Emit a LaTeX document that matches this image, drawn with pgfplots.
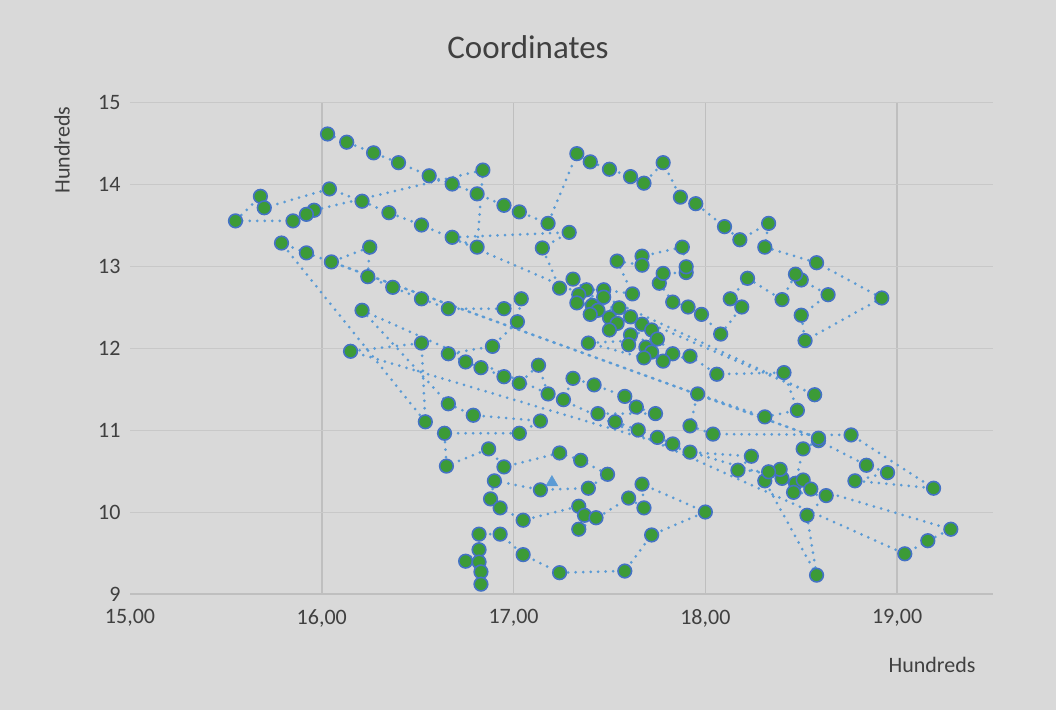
\documentclass[border=0pt]{standalone}
\usepackage{pgfplots}
\pgfplotsset{compat=1.18}
\usepackage{fontspec}
\setmainfont{Carlito}
\definecolor{bgc}{HTML}{D9D9D9}
\definecolor{txt}{HTML}{404040}
\definecolor{vgrid}{HTML}{BFBFBF}
\definecolor{hgrid}{HTML}{C8C8C8}
\definecolor{lineblue}{HTML}{5B9BD5}
\definecolor{mkedge}{HTML}{4472C4}
\definecolor{mkfill}{RGB}{60,155,55}
\pgfplotstableread{
x y
16.03 14.61
16.13 14.51
16.27 14.38
16.40 14.26
16.56 14.10
16.68 14.00
16.81 13.88
16.95 13.74
17.03 13.66
17.18 13.52
17.33 14.37
17.40 14.27
17.50 14.18
17.61 14.09
17.68 14.01
17.78 14.26
17.87 13.84
17.95 13.76
18.10 13.48
18.18 13.32
18.33 13.52
18.31 13.23
18.58 13.04
18.92 12.61
18.52 12.09
18.50 12.40
18.64 12.65
18.50 12.83
18.47 12.90
18.40 12.59
18.22 12.85
18.13 12.60
18.19 12.50
18.08 12.17
17.98 12.41
17.91 12.50
17.83 12.56
17.76 12.79
17.78 12.91
17.90 12.92
17.90 12.99
17.88 13.23
17.67 13.12
17.67 13.01
17.54 13.06
17.62 12.66
17.47 12.71
17.38 12.71
17.31 12.84
17.24 12.73
17.15 13.22
17.29 13.41
16.68 13.35
16.81 13.23
16.84 14.17
15.96 13.68
15.92 13.63
15.85 13.55
15.55 13.55
15.68 13.85
15.70 13.71
16.04 13.94
16.21 13.79
16.35 13.65
16.52 13.50
18.57 11.43
17.47 12.62
17.34 12.65
17.33 12.55
17.41 12.52
17.44 12.46
17.40 12.41
17.55 12.49
17.50 12.37
17.54 12.30
17.50 12.22
17.61 12.38
17.67 12.29
17.72 12.22
17.61 12.16
17.60 12.04
17.69 12.01
17.72 11.95
17.68 11.88
17.39 12.06
17.75 12.11
17.83 11.93
17.78 11.84
17.92 11.90
18.06 11.68
18.41 11.70
18.48 11.24
18.31 11.16
17.96 11.44
17.92 11.05
18.04 10.95
18.76 10.94
19.19 10.29
18.78 10.38
18.95 10.48
18.84 10.57
18.59 10.87
18.51 10.77
18.47 10.35
18.51 10.39
18.55 10.28
18.46 10.24
18.63 10.20
18.53 9.96
18.58 9.23
18.31 10.38
18.40 10.41
18.39 10.52
18.33 10.49
18.17 10.51
18.24 10.68
17.92 10.73
17.83 10.83
17.75 10.91
17.65 11.00
17.53 11.10
17.44 11.20
17.74 11.20
17.64 11.28
17.58 11.41
17.42 11.55
17.31 11.63
17.26 11.37
17.18 11.44
17.13 11.79
17.03 11.57
16.95 11.65
16.83 11.76
16.75 11.83
16.66 11.93
16.89 12.02
17.02 12.32
17.04 12.60
16.95 12.48
16.66 12.48
16.52 12.60
16.37 12.74
16.24 12.87
16.25 13.23
16.05 13.05
18.59 10.90
15.92 13.16
15.79 13.28
16.54 11.10
16.52 12.06
16.15 11.96
19.28 9.79
19.16 9.65
19.04 9.49
16.21 12.46
16.66 11.32
16.79 11.18
17.14 11.11
17.03 10.96
16.64 10.96
16.65 10.56
16.87 10.77
16.95 10.55
17.24 10.72
17.35 10.63
17.49 10.46
17.39 10.29
17.14 10.27
16.90 10.38
16.88 10.16
16.93 10.05
17.05 9.90
17.34 10.07
17.37 9.96
17.43 9.93
17.34 9.79
17.60 10.17
17.68 10.05
17.67 10.34
18.00 10.00
17.72 9.72
17.58 9.28
17.24 9.26
17.05 9.48
16.93 9.73
16.82 9.73
16.82 9.54
16.75 9.40
16.82 9.39
16.83 9.27
16.83 9.12
}\pathdata
\begin{document}
\begin{tikzpicture}[x=1pt,y=1pt]
\fill[bgc] (0,0) rectangle (1056,710);
\begin{axis}[
  at={(130pt,116pt)}, anchor=south west,
  scale only axis, width=863pt, height=492pt,
  xmin=15, xmax=19.5, ymin=9, ymax=15,
  xtick={16,17,18,19}, extra x ticks={15}, extra x tick style={grid=none},
  ytick={9,10,...,15},
  axis x line*=bottom, axis y line*=left,
  x axis line style={draw=vgrid, line width=1.5pt, -},
  y axis line style={draw=none},
  major tick length=0pt,
  grid=major,
  x grid style={draw=vgrid, line width=1.5pt},
  y grid style={draw=hgrid, line width=1pt},
  /pgf/number format/assume math mode=true,
  tick label style={font=\fontsize{22}{26}\selectfont, text=txt},
  xticklabel style={/pgf/number format/.cd, fixed, fixed zerofill, precision=2, use comma, /tikz/.cd, yshift=-12pt},
  yticklabel style={xshift=-6pt},
  clip=false,
]
\addplot[lineblue, line width=3pt, line cap=round, dash pattern=on 0pt off 7.5pt] table[x=x,y=y] {\pathdata};
\addplot[only marks, mark=*, mark size=6.8pt, mark options={draw=mkedge, fill=mkfill, line width=1.6pt}] table[x=x,y=y] {\pathdata};
\addplot[only marks, mark=triangle*, mark size=7pt, mark options={draw=lineblue, fill=lineblue}] coordinates {(17.20,10.36)};
\end{axis}
\node[font=\fontsize{33}{38}\selectfont, text=txt] at (528,663) {Coordinates};
\node[font=\fontsize{22}{26}\selectfont, text=txt, rotate=90] at (62,560) {Hundreds};
\node[font=\fontsize{22}{26}\selectfont, text=txt] at (932,45) {Hundreds};
\end{tikzpicture}
\end{document}
